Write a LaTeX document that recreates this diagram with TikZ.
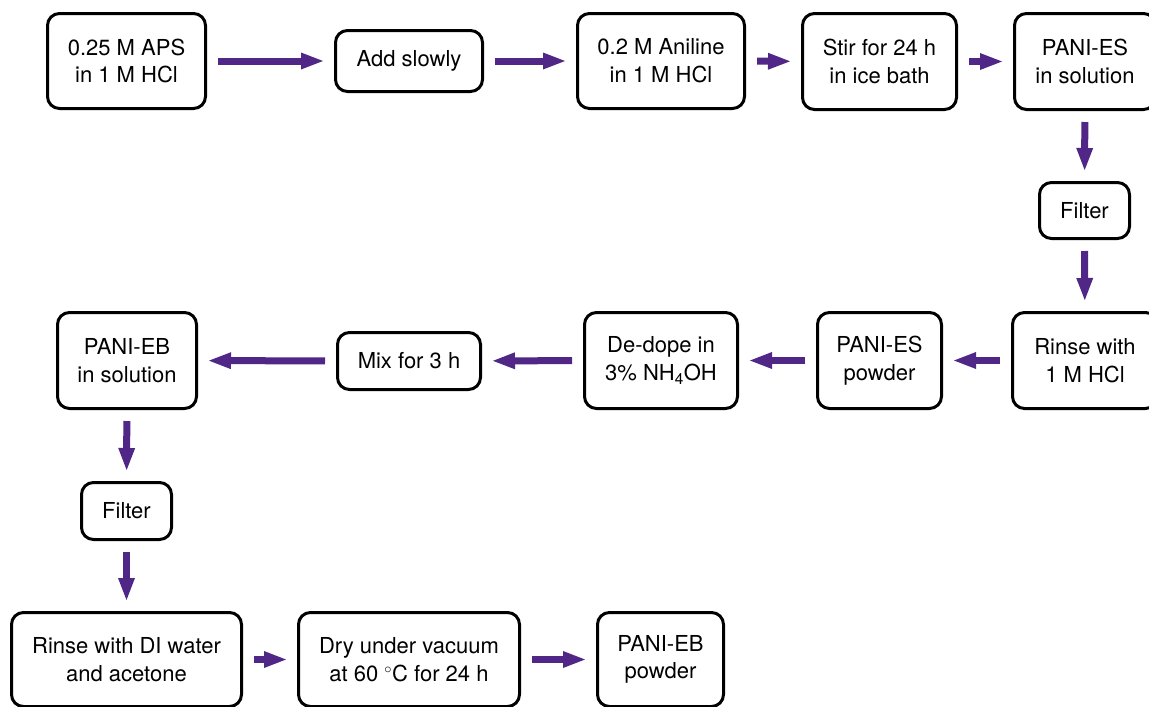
\documentclass[tikz,border=0pt]{standalone}
\usepackage{fontspec}
\setmainfont{TeX Gyre Heros}
\usetikzlibrary{arrows.meta}
\definecolor{arrowpurple}{RGB}{80,38,135}
\tikzset{
  stepbox/.style={draw=black, line width=3pt, rounded corners=12pt, fill=white,
    align=center, inner sep=0pt, font=\fontsize{22}{27.7}\selectfont},
  flow/.style={draw=arrowpurple, line width=7pt,
    -{Triangle[length=22pt,width=17pt,line width=0pt]},
    shorten <=11pt, shorten >=11pt},
}
\begin{document}
\begin{tikzpicture}[x=1pt,y=-1pt]
\useasboundingbox (0,0) rectangle (1149,707);
% row 1
\node[stepbox, minimum width=158pt, minimum height=95pt] (aps) at (126.5,61) {0.25 M APS\\in 1 M HCl};
\node[stepbox, minimum width=147pt, minimum height=61pt] (add) at (409,61) {Add slowly};
\node[stepbox, minimum width=167pt, minimum height=95pt] (ani) at (661,61) {0.2 M Aniline\\in 1 M HCl};
\node[stepbox, minimum width=154pt, minimum height=96pt] (stir) at (879.5,61.5) {Stir for 24 h\\in ice bath};
\node[stepbox, minimum width=141pt, minimum height=96pt] (essol) at (1085,61.5) {PANI-ES\\in solution};
% filter 1
\node[stepbox, minimum width=90pt, minimum height=56pt] (filt1) at (1084.5,210.5) {Filter};
% row 2
\node[stepbox, minimum width=145pt, minimum height=96pt] (rinse1) at (1085,360.5) {Rinse with\\1 M HCl};
\node[stepbox, minimum width=124pt, minimum height=96pt] (espow) at (879.5,360.5) {PANI-ES\\powder};
\node[stepbox, minimum width=153pt, minimum height=96pt] (dedope) at (661,360.5) {De-dope in\\3\% NH\textsubscript{4}OH};
\node[stepbox, minimum width=143pt, minimum height=57pt] (mix) at (409,361) {Mix for 3 h};
\node[stepbox, minimum width=139pt, minimum height=96pt] (ebsol) at (127,360.5) {PANI-EB\\in solution};
% filter 2
\node[stepbox, minimum width=90pt, minimum height=57pt] (filt2) at (126.5,511) {Filter};
% row 3
\node[stepbox, minimum width=230pt, minimum height=94pt] (rinse2) at (126.5,659.5) {Rinse with DI water\\and acetone};
\node[stepbox, minimum width=221pt, minimum height=94pt] (dry) at (409,659.5) {Dry under vacuum\\at 60 $^\circ$C for 24 h};
\node[stepbox, minimum width=126pt, minimum height=94pt] (ebpow) at (660.5,659.5) {PANI-EB\\powder};
% arrows
\draw[flow] (aps) -- (add);
\draw[flow] (add) -- (ani);
\draw[flow] (ani) -- (stir);
\draw[flow] (stir) -- (essol);
\draw[flow] (essol) -- (filt1);
\draw[flow] (filt1) -- (rinse1);
\draw[flow] (rinse1) -- (espow);
\draw[flow] (espow) -- (dedope);
\draw[flow] (dedope) -- (mix);
\draw[flow] (mix) -- (ebsol);
\draw[flow] (ebsol) -- (filt2);
\draw[flow] (filt2) -- (rinse2);
\draw[flow] (rinse2) -- (dry);
\draw[flow] (dry) -- (ebpow);
\end{tikzpicture}
\end{document}
